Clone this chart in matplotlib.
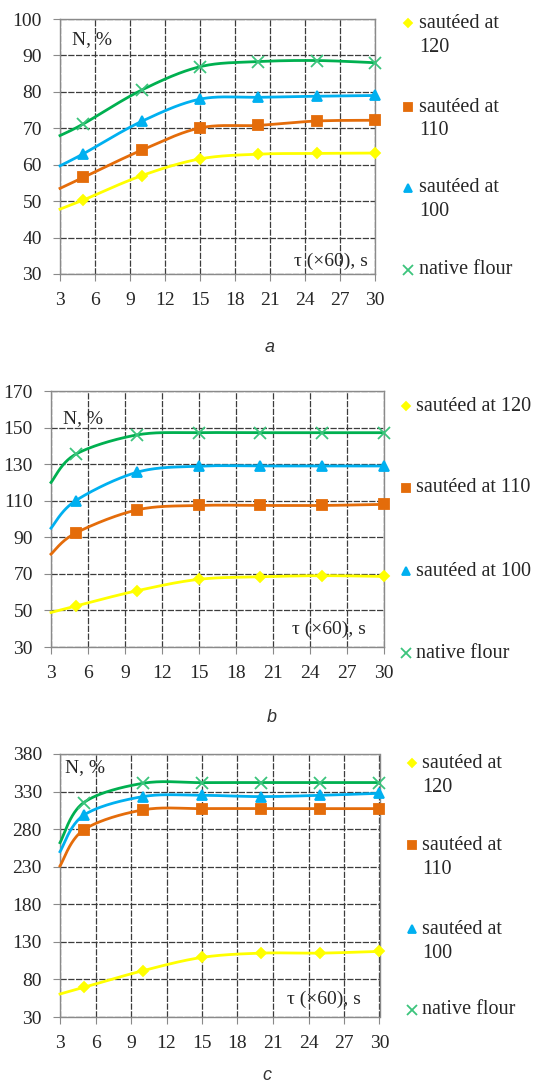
import matplotlib.pyplot as plt
from matplotlib.lines import Line2D
import numpy as np

# time, tau (x60) s
tau = [3, 5, 10, 15, 20, 25, 30]
x_ticks = [3, 6, 9, 12, 15, 18, 21, 24, 27, 30]

# panel a
a_120 = [47.8, 50.3, 57.0, 61.6, 62.9, 63.1, 63.2]
a_110 = [53.5, 56.5, 64.0, 70.1, 70.8, 72.0, 72.2]
a_100 = [59.7, 63.0, 71.9, 78.0, 78.5, 78.8, 79.0]
a_native = [68.0, 71.2, 80.5, 86.9, 88.3, 88.6, 88.0]
a_yticks = [30, 40, 50, 60, 70, 80, 90, 100]

# panel b
b_120 = [48.9, 52.4, 60.8, 67.0, 68.4, 69.0, 68.6]
b_110 = [80.8, 92.3, 105.0, 107.4, 107.4, 107.4, 108.0]
b_100 = [95.0, 110.0, 125.6, 128.9, 129.0, 129.0, 129.0]
b_native = [120.0, 135.4, 146.0, 147.2, 147.2, 147.2, 147.2]
b_yticks = [30, 50, 70, 90, 110, 130, 150, 170]

# panel c
c_120 = [60.6, 69.4, 91.6, 109.3, 115.0, 115.0, 117.3]
c_110 = [231.0, 279.0, 305.6, 307.3, 307.3, 307.3, 307.3]
c_100 = [250.0, 298.5, 323.3, 325.0, 323.3, 325.0, 327.7]
c_native = [262.0, 315.3, 341.0, 341.9, 342.0, 342.0, 342.0]
c_yticks = [30, 80, 130, 180, 230, 280, 330, 380]

labels = ["sautéed at 120", "sautéed at 110", "sautéed at 100", "native flour"]
line_colors = ["#FFFF00", "#E46C0A", "#00B0F0", "#00B050"]
mark_colors = ["#FFFF00", "#E46C0A", "#00B0F0", "#3CC47C"]
markers = ["D", "s", "^", "x"]
msizes = [5, 6.5, 6.5, 8]

W, H = 536, 1085
serif = ["Liberation Serif", "DejaVu Serif"]

fig = plt.figure(figsize=(W / 100, H / 100), dpi=100)


def smooth(ax, xs, ys, n=40):
    # excel-like smoothed line (catmull-rom bezier in screen space)
    pts = ax.transData.transform(np.column_stack([xs, ys]))
    ext = np.vstack([pts[0], pts, pts[-1]])
    out = []
    t = np.linspace(0, 1, n)[:, None]
    for i in range(len(pts) - 1):
        p0, p1, p2, p3 = ext[i], ext[i + 1], ext[i + 2], ext[i + 3]
        c1 = p1 + (p2 - p0) / 6
        c2 = p2 - (p3 - p1) / 6
        seg = (1 - t) ** 3 * p1 + 3 * (1 - t) ** 2 * t * c1 + 3 * (1 - t) * t ** 2 * c2 + t ** 3 * p2
        out.append(seg)
    out = ax.transData.inverted().transform(np.vstack(out))
    return out[:, 0], out[:, 1]


def panel(box, series, yticks, leg_x, leg_rows, two_lines, n_pos, tau_pos, letter, letter_pos):
    l, t, r, b = box
    ax = fig.add_axes([l / W, 1 - b / H, (r - l) / W, (b - t) / H])
    ax.set_xlim(3, 30)
    ax.set_ylim(yticks[0], yticks[-1])
    ax.set_xticks(x_ticks)
    ax.set_yticks(yticks)
    ax.grid(True, color="#3c3c3c", linestyle=(0, (5, 1.2)), linewidth=0.9)
    ax.set_axisbelow(True)
    for s in ax.spines.values():
        s.set_color("#8a8a8a")
        s.set_linewidth(1.0)
    ax.tick_params(direction="out", length=5, color="#8a8a8a", labelsize=14,
                   labelcolor="#262626")
    ax.tick_params(axis="y", pad=8)
    ax.tick_params(axis="x", pad=8)
    for lab in ax.get_xticklabels() + ax.get_yticklabels():
        lab.set_family(serif)

    for k, ys in enumerate(series):
        sx, sy = smooth(ax, tau, ys)
        ax.plot(sx, sy, color=line_colors[k], lw=2.0, zorder=3, clip_on=False)
        ax.plot(tau[1:], ys[1:], ls="none", marker=markers[k], ms=msizes[k],
                color=mark_colors[k], mew=1.3, zorder=4, clip_on=False)

    ax.text(n_pos[0], n_pos[1], "N, %", transform=ax.transAxes, fontsize=14,
            family=serif, color="#262626", va="center", ha="left")
    ax.text(tau_pos[0], tau_pos[1], "τ (×60), s", transform=ax.transAxes, fontsize=14,
            family=serif, color="#262626", va="center", ha="right")

    # legend
    mx, tx = leg_x
    for k in range(4):
        y = leg_rows[k]
        fig.add_artist(Line2D([mx / W], [1 - y / H], marker=markers[k], ms=msizes[k] - 0.5,
                              color=mark_colors[k], mew=1.3, ls="none"))
        if two_lines and k < 3:
            first, second = labels[k].rsplit(" ", 1)
            fig.text(tx / W, 1 - y / H, first, fontsize=14.5, family=serif,
                     color="#262626", va="center")
            fig.text(tx / W, 1 - (y + 24) / H, second, fontsize=14.5, family=serif,
                     color="#262626", va="center")
        else:
            fig.text(tx / W, 1 - y / H, labels[k], fontsize=14.5, family=serif,
                     color="#262626", va="center")

    fig.text(letter_pos[0] / W, 1 - letter_pos[1] / H, letter, fontsize=13,
             family=["Liberation Sans", "DejaVu Sans"], style="italic",
             color="#333333", ha="center", va="center")
    return ax


panel((60, 19, 375, 274), [a_120, a_110, a_100, a_native], a_yticks,
      (408, 419), [23, 107, 188, 270], True, (0.038, 0.918), (0.976, 0.051),
      "a", (270, 347))
panel((51, 391, 383.5, 647), [b_120, b_110, b_100, b_native], b_yticks,
      (406, 416), [406, 488, 571, 653], False, (0.036, 0.894), (0.946, 0.07),
      "b", (272, 717))
panel((60, 754, 379.5, 1017), [c_120, c_110, c_100, c_native], c_yticks,
      (412, 422), [763, 845, 929, 1010], True, (0.016, 0.947), (0.943, 0.068),
      "c", (267, 1075))

fig.savefig("out.png", dpi=100)
